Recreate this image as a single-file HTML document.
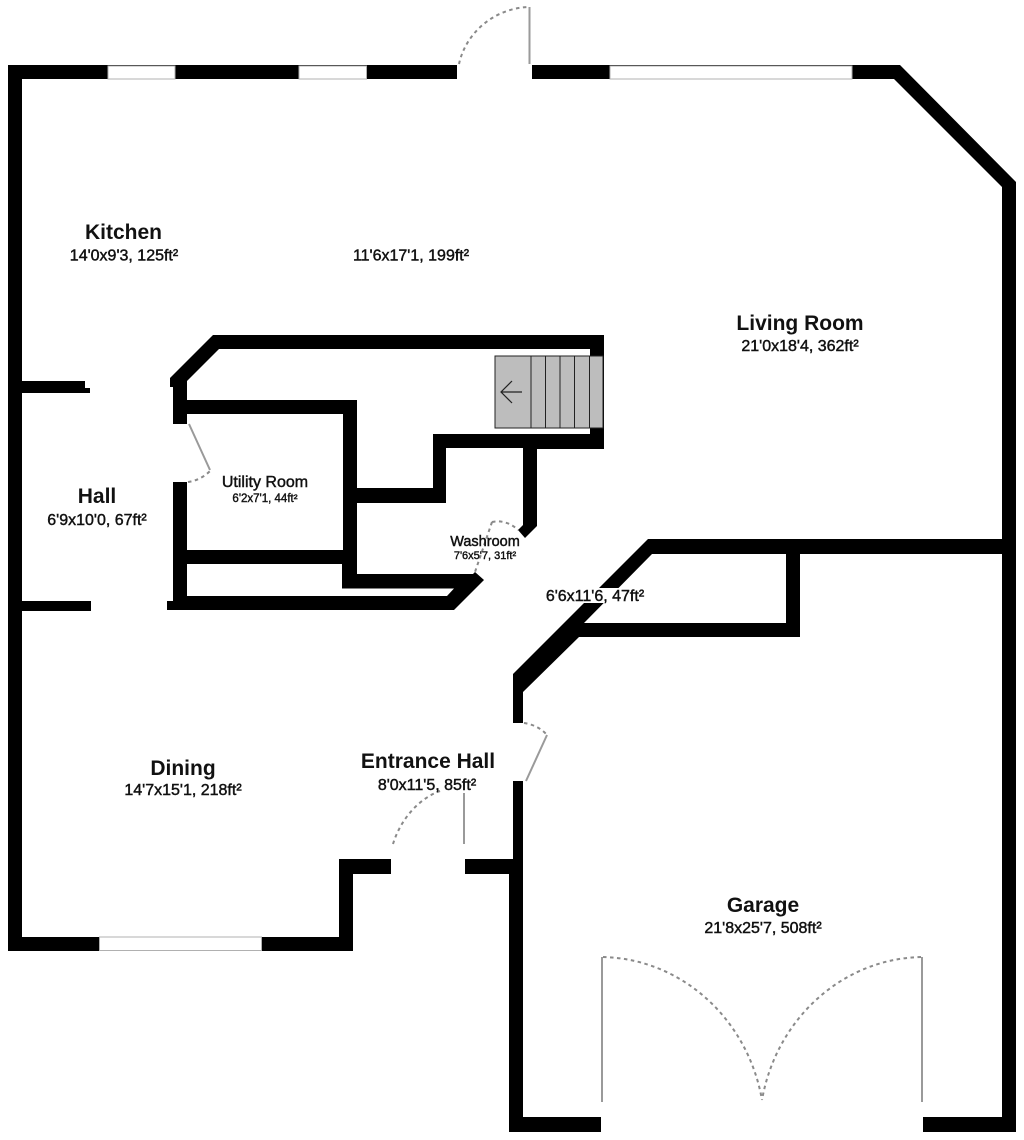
<!DOCTYPE html>
<html><head><meta charset="utf-8"><style>
html,body{margin:0;padding:0;background:#fff}
svg{display:block}
text{font-family:"Liberation Sans",Arial,sans-serif;fill:#111;text-anchor:middle;stroke:#111}
.t{font-size:21px;font-weight:bold;stroke-width:0}
.s{font-size:16px;stroke-width:.45px}
.d{fill:none;stroke:#8a8a8a;stroke-width:2;stroke-dasharray:3.5 3.5}
.l{fill:none;stroke:#9a9a9a;stroke-width:2}
.w{fill:#fff;stroke:#b0b0b0;stroke-width:1}
</style></head><body>
<svg width="1024" height="1140" viewBox="0 0 1024 1140" xmlns="http://www.w3.org/2000/svg">
<rect width="1024" height="1140" fill="#fff"/>
<g fill="#000">
<!-- outer left/top -->
<path d="M8 65H457V79H22V937H339V859H391V874H353V951H8Z"/>
<!-- top right & right wall -->
<path d="M532 65H900L1016 182V1132H923V1117H1002V187L894 79H532Z"/>
<!-- hall spurs -->
<path d="M22 381H85V388H90V393H22Z"/>
<path d="M22 601H91V611H22Z"/>
<!-- central upper structure -->
<path d="M213 335H604V449H537V526L525 538L518 530L523 525V448H446V503H357V574H473L475 572L484 580L454 610H167V601H173V482H187V550H343V414H187V424H173V387H170V378ZM219 349L187 381V400H357V488H433V434H590V349Z" fill-rule="evenodd"/>
<!-- garage top & diagonal -->
<path d="M648 539H1002V554H800V637H579L523 692V723H513V674ZM652 554L584 623H786V554Z" fill-rule="evenodd"/>
<!-- garage left & entrance wall -->
<path d="M513 781H523V1117H601V1132H509V874H465V859H513Z"/>
</g>
<!-- lower closet interior -->
<path d="M187 564H342V588.500H454L447 596H187Z" fill="#fff"/>
<!-- windows -->
<rect class="w" x="108" y="66" width="67" height="13"/>
<rect class="w" x="299" y="66" width="67.500" height="13"/>
<rect class="w" x="610" y="66" width="242" height="13"/>
<rect class="w" x="99.500" y="937" width="162" height="13.500"/>
<!-- stairs -->
<g fill="#bdbdbd" stroke="#222" stroke-width="1">
<rect x="495" y="356" width="108" height="72"/>
<path d="M531 356V428M545.500 356V428M560 356V428M574.500 356V428M589.500 356V428" fill="none"/>
</g>
<path d="M522 392H501M512 381L501 392L512 403" fill="none" stroke="#222" stroke-width="1.200"/>
<!-- doors -->
<path class="l" d="M529.500 7V64"/>
<path class="d" d="M459 64C466 32 495 8 529 7"/>
<path class="l" d="M189 424L210 470"/>
<path class="d" d="M188 482C196 481 204 477 210 471"/>
<path class="d" d="M492 522L475 572" stroke-dasharray="6 3"/>
<path class="d" d="M492 522C501 520 511 523 518 530"/>
<path class="d" d="M524 723C532 724 541 728 547 735"/>
<path class="l" d="M547 735L526 781"/>
<path class="l" d="M464 793V844"/>
<path class="d" d="M393 844C401 818 420 798 440 791"/>
<path class="l" d="M602 957V1102"/>
<path class="d" d="M603 957C683 959 748 1020 762 1100"/>
<path class="l" d="M922 957V1102"/>
<path class="d" d="M921 957C841 959 776 1020 762 1100"/>
<!-- labels -->
<text class="t" x="123.500" y="239">Kitchen</text>
<text class="s" x="124" y="260.500">14'0x9'3, 125ft²</text>
<text class="s" x="411" y="260.500">11'6x17'1, 199ft²</text>
<text class="t" x="800" y="330">Living Room</text>
<text class="s" x="800" y="351">21'0x18'4, 362ft²</text>
<text class="t" x="97" y="503">Hall</text>
<text class="s" x="97" y="525">6'9x10'0, 67ft²</text>
<text x="265" y="487" style="font-size:16px;stroke-width:.45px">Utility Room</text>
<text x="265" y="502" style="font-size:11.500px;stroke-width:.4px">6'2x7'1, 44ft²</text>
<text x="485" y="546" style="font-size:14.500px;stroke-width:.45px">Washroom</text>
<text x="485" y="559" style="font-size:11px;stroke-width:.4px">7'6x5'7, 31ft²</text>
<rect x="545" y="588" width="100" height="15" fill="#fff"/>
<text class="s" x="595" y="601">6'6x11'6, 47ft²</text>
<text class="t" x="183" y="775">Dining</text>
<text class="s" x="183" y="795">14'7x15'1, 218ft²</text>
<text class="t" x="428" y="768">Entrance Hall</text>
<text class="s" x="427" y="790">8'0x11'5, 85ft²</text>
<text class="t" x="763" y="912">Garage</text>
<text class="s" x="763" y="933">21'8x25'7, 508ft²</text>
</svg>
</body></html>
